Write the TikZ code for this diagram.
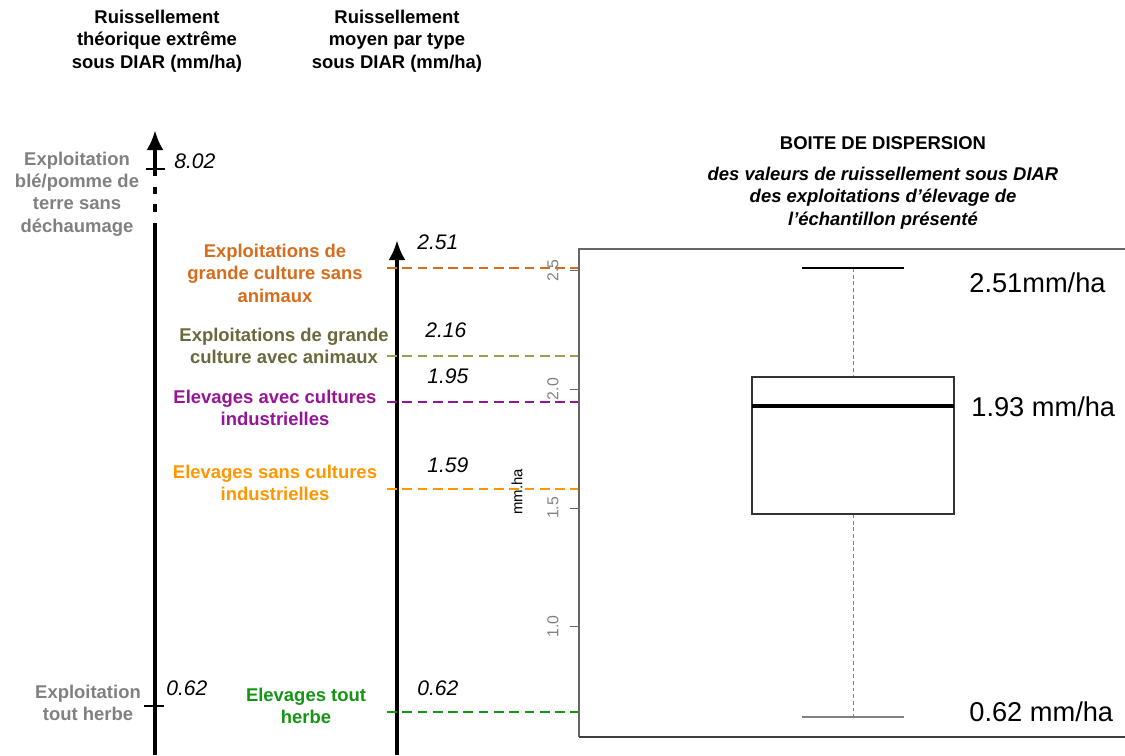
\documentclass[tikz,border=0pt]{standalone}
\usepackage{fontspec}
\setmainfont{Liberation Sans}
\usetikzlibrary{arrows.meta}
\definecolor{grisexp}{RGB}{128,128,128}
\definecolor{gcsans}{RGB}{214,108,28}
\definecolor{gcavectxt}{RGB}{105,105,60}
\definecolor{gcavec}{RGB}{160,160,70}
\definecolor{elavec}{RGB}{150,20,150}
\definecolor{elsans}{RGB}{255,150,0}
\definecolor{elherbe}{RGB}{20,150,20}
\begin{document}
\begin{tikzpicture}[x=0.02cm,y=-0.02cm,
	titre/.style={font=\fontsize{10.5}{12.8}\selectfont\bfseries,align=center},
	soustitre/.style={font=\fontsize{10.5}{12.8}\selectfont\bfseries\itshape,align=center},
	typelbl/.style={font=\fontsize{10.5}{12.8}\selectfont\bfseries,align=center},
	valeur/.style={font=\fontsize{12}{14}\selectfont\itshape,anchor=west,inner sep=0pt},
	mmha/.style={font=\fontsize{15.5}{17}\selectfont,anchor=west,inner sep=0pt},
	axe/.style={line width=2.3pt,-{Latex[length=4mm,width=3.4mm]}},
	niveau/.style={line width=1.4pt,dash pattern={on 5.5pt off 3.2pt}},
	graduation/.style={font=\fontsize{9}{10}\selectfont,text=gray,rotate=90,inner sep=0pt}]
	\useasboundingbox (0,0) rectangle (1125,755);
	% titles of the two axes
		\node[titre] (titreA) at (157,41) {Ruissellement\\théorique extrême\\sous DIAR (mm/ha)};
		\node[titre] (titreB) at (397,41) {Ruissellement\\moyen par type\\sous DIAR (mm/ha)};
	% axis 1 : extreme values
		\coordinate (axeAbas) at (155,755);
		\coordinate (axeAhaut) at (155,130);
		\draw[line width=2.3pt] (axeAbas) -- (155,223);
		\draw[line width=2.3pt] (155,204) -- (155,212);
		\draw[line width=2.3pt] (155,187) -- (155,194);
		\draw[axe] (155,176) -- (axeAhaut);
		\draw[thick] (146,169) -- (165,169);
		\draw[thick] (144,706) -- (164,706);
		\node[valeur] (maxA) at (174,161) {8.02};
		\node[valeur] (minA) at (166,688) {0.62};
		\node[typelbl,text=grisexp] (ble) at (77,194) {Exploitation\\blé/pomme de\\terre sans\\déchaumage};
		\node[typelbl,text=grisexp] (herbeA) at (88,703) {Exploitation\\tout herbe};
	% axis 2 : mean value per type
		\coordinate (axeBbas) at (397,755);
		\coordinate (axeBhaut) at (397,240);
		\draw[axe] (axeBbas) -- (axeBhaut);
		\node[valeur] (v251) at (417,242) {2.51};
		\node[valeur] (v216) at (425,330) {2.16};
		\node[valeur] (v195) at (427,376) {1.95};
		\node[valeur] (v159) at (427,465) {1.59};
		\node[valeur] (v062) at (417,688) {0.62};
		\node[typelbl,text=gcsans] (gcs) at (275,273) {Exploitations de\\grande culture sans\\animaux};
		\node[typelbl,text=gcavectxt] (gca) at (284,346) {Exploitations de grande\\culture avec animaux};
		\node[typelbl,text=elavec] (eac) at (275,408) {Elevages avec cultures\\industrielles};
		\node[typelbl,text=elsans] (esc) at (275,483) {Elevages sans cultures\\industrielles};
		\node[typelbl,text=elherbe] (eth) at (306,706) {Elevages tout\\herbe};
	% dashed levels towards the box plot
		\draw[niveau,gcsans] (387,268) -- (584,268);
		\draw[niveau,gcavec,line width=1.1pt] (387,356) -- (584,356);
		\draw[niveau,elavec] (387,402) -- (584,402);
		\draw[niveau,elsans] (387,489) -- (584,489);
		\draw[niveau,elherbe] (387,712) -- (580,712);
	% box plot
		\node[titre] (boite) at (883,143) {BOITE DE DISPERSION};
		\node[soustitre] (boitesub) at (883,198) {des valeurs de ruissellement sous DIAR\\des exploitations d’élevage de\\l’échantillon présenté};
		\draw[gray!80!black,line width=0.6pt] (579,737) -- (579,249) -- (1125,249);
		\draw[black!75,line width=0.9pt] (579,737) -- (1125,737);
		\foreach \v in {2.5,2.0,1.5,1.0}
			\draw[gray!80!black,line width=0.5pt] (570,{268+(2.51-\v)*237.6}) -- (579,{268+(2.51-\v)*237.6})
				node[graduation] at (553,{268+(2.51-\v)*237.6}) {\v};
		\node[font=\fontsize{8.5}{10}\selectfont,rotate=90,inner sep=0pt] (unite) at (517,492) {mm.ha};
		\draw[gray,line width=0.5pt,dash pattern={on 2.2pt off 1.6pt}] (853,268) -- (853,377);
		\draw[gray,line width=0.5pt,dash pattern={on 2.2pt off 1.6pt}] (853,514) -- (853,717);
		\draw[line width=0.8pt] (802,268) -- (904,268);
		\draw[gray,line width=0.6pt] (802,717) -- (904,717);
		\draw[black!80,line width=0.7pt,fill=white] (752,377) rectangle (954,514);
		\draw[line width=1.8pt] (752,406) -- (954,406);
		\node[mmha] (q251) at (969,283) {2.51mm/ha};
		\node[mmha] (q193) at (971,407) {1.93 mm/ha};
		\node[mmha] (q062) at (969,712) {0.62 mm/ha};
\end{tikzpicture}
\end{document}
